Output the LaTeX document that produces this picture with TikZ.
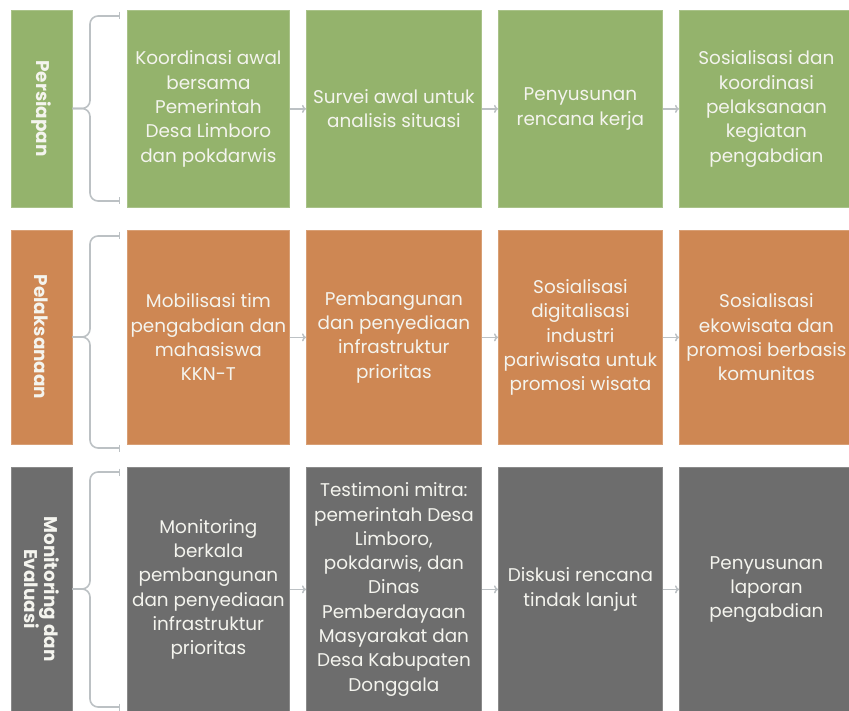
\documentclass[tikz,border=0pt]{standalone}
\usepackage{fontspec}
\setmainfont{Poppins}
\usetikzlibrary{arrows.meta}
\definecolor{cgreen}{HTML}{94B36C}
\definecolor{corange}{HTML}{CE8753}
\definecolor{cgray}{HTML}{6D6D6D}
\definecolor{cline}{HTML}{BCC1C4}
\definecolor{ctext}{HTML}{F4F4EE}
\begin{document}
\begin{tikzpicture}[x=1pt,y=-1pt,
  box/.style={draw=#1!80!white, fill=#1, line width=0.8pt, text=ctext, align=center,
    inner sep=0pt, anchor=north west, font=\fontsize{18.4}{24.3}\selectfont},
  lab/.style={draw=#1!80!white, fill=#1, line width=0.8pt, text=ctext, align=center,
    inner sep=0pt, rotate=-90, minimum height=61pt, font=\bfseries\fontsize{18.4}{20}\selectfont},
  brace/.style={draw=cline, line width=1.6pt, rounded corners=8pt, -{Bar[width=7pt,line width=1.4pt]}},
  arr/.style={draw=cline, line width=1.5pt, -{To[length=4pt,width=8pt]}}
]
\useasboundingbox (0,0) rectangle (849,711);
% row 1
\node[lab=cgreen, minimum width=197pt] (L1) at (41.5,108.5) {Persiapan};
\node[box=cgreen, minimum width=162pt, minimum height=197pt] (a1) at (127,10) {Koordinasi awal\\bersama\\Pemerintah\\Desa Limboro\\dan pokdarwis};
\node[box=cgreen, minimum width=175pt, minimum height=197pt] (a2) at (306,10) {Survei awal untuk\\analisis situasi};
\node[box=cgreen, minimum width=164pt, minimum height=197pt] (a3) at (498,10) {Penyusunan\\rencana kerja};
\node[box=cgreen, minimum width=174pt, minimum height=197pt] (a4) at (679,10) {Sosialisasi dan\\koordinasi\\pelaksanaan\\kegiatan\\pengabdian};
% row 2
\node[lab=corange, minimum width=214pt] (L2) at (41.5,337) {Pelaksanaan};
\node[box=corange, minimum width=162pt, minimum height=214pt] (b1) at (127,230) {Mobilisasi tim\\pengabdian dan\\mahasiswa\\KKN-T};
\node[box=corange, minimum width=175pt, minimum height=214pt] (b2) at (306,230) {Pembangunan\\dan penyediaan\\infrastruktur\\prioritas};
\node[box=corange, minimum width=164pt, minimum height=214pt] (b3) at (498,230) {Sosialisasi\\digitalisasi\\industri\\pariwisata untuk\\promosi wisata};
\node[box=corange, minimum width=174pt, minimum height=214pt] (b4) at (679,230) {Sosialisasi\\ekowisata dan\\promosi berbasis\\komunitas};
% row 3
\node[lab=cgray, minimum width=244pt] (L3) at (41.5,589) {Monitoring dan\\Evaluasi};
\node[box=cgray, minimum width=162pt, minimum height=244pt] (c1) at (127,467) {Monitoring\\berkala\\pembangunan\\dan penyediaan\\infrastruktur\\prioritas};
\node[box=cgray, minimum width=175pt, minimum height=244pt] (c2) at (306,467) {Testimoni mitra:\\pemerintah Desa\\Limboro,\\pokdarwis, dan\\Dinas\\Pemberdayaan\\Masyarakat dan\\Desa Kabupaten\\Donggala};
\node[box=cgray, minimum width=164pt, minimum height=244pt] (c3) at (498,467) {Diskusi rencana\\tindak lanjut};
\node[box=cgray, minimum width=174pt, minimum height=244pt] (c4) at (679,467) {Penyusunan\\laporan\\pengabdian};
% brace coordinates
\coordinate (m1) at (90,108.5); \coordinate (t1) at (120,16); \coordinate (u1) at (120,201);
\coordinate (m2) at (90,337);   \coordinate (t2) at (120,236); \coordinate (u2) at (120,448);
\coordinate (m3) at (90,589);   \coordinate (t3) at (120,472); \coordinate (u3) at (120,707);
\foreach \i in {1,2,3}{
  \draw[brace] (L\i.north) -- (m\i) -- (m\i |- t\i) -- (t\i);
  \draw[brace] (L\i.north) -- (m\i) -- (m\i |- u\i) -- (u\i);
}
% arrows
\foreach \r in {a,b,c}{
  \draw[arr] (\r1.east) -- (\r2.west);
  \draw[arr] (\r2.east) -- (\r3.west);
  \draw[arr] (\r3.east) -- (\r4.west);
}
\end{tikzpicture}
\end{document}
